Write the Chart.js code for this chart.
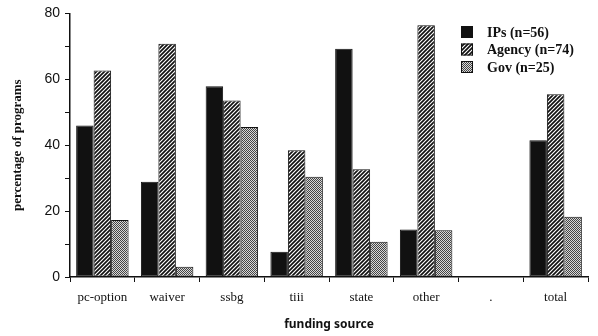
<!DOCTYPE html>
<html>
<head>
<meta charset="utf-8">
<script src="https://cdn.jsdelivr.net/npm/chart.js@4"></script>
<style>
  html, body { margin: 0; padding: 0; background: #fff; }
  #wrap { width: 598px; height: 336px; }
</style>
</head>
<body>
<div id="wrap"><canvas id="fundChart" width="598" height="336"></canvas></div>
<script>
// funding source categories
const categories = ['pc-option', 'waiver', 'ssbg', 'tiii', 'state', 'other', '.', 'total'];
// percentage of programs per group
const ipsValues = [46, 28.9, 57.9, 7.7, 69.3, 14.4, 0, 41.5];
const agencyValues = [62.7, 70.8, 53.6, 38.5, 32.7, 76.4, 0, 55.5];
const govValues = [17.3, 3.1, 45.5, 30.4, 10.7, 14.2, 0, 18.3];
const seriesLabels = ['IPs (n=56)', 'Agency (n=74)', 'Gov (n=25)'];
const yTicks = [0, 20, 40, 60, 80];

// hatch fill for Agency
function makeHatch() {
    const c = document.createElement('canvas');
    c.width = 4; c.height = 4;
    const g = c.getContext('2d');
    g.fillStyle = '#fff';
    g.fillRect(0, 0, 4, 4);
    g.strokeStyle = '#111';
    g.lineWidth = 1.7;
    g.beginPath();
    g.moveTo(-1, 5); g.lineTo(5, -1);
    g.moveTo(-1, 1); g.lineTo(1, -1);
    g.moveTo(3, 5); g.lineTo(5, 3);
    g.stroke();
    return g.createPattern(c, 'repeat');
}

// fine checker fill for Gov
function makeChecker() {
    const c = document.createElement('canvas');
    c.width = 2; c.height = 2;
    const g = c.getContext('2d');
    g.fillStyle = '#d8d8d8';
    g.fillRect(0, 0, 2, 2);
    g.fillStyle = '#444';
    g.fillRect(0, 0, 1, 1);
    g.fillRect(1, 1, 1, 1);
    return g.createPattern(c, 'repeat');
}

const fills = ['#111', makeHatch(), makeChecker()];

// legend in the top right corner
const boxLegend = {
    id: 'boxLegend',
    afterDraw(chart) {
        const ctx = chart.ctx;
        ctx.save();
        ctx.font = 'bold 14px "Liberation Serif", serif';
        ctx.textBaseline = 'middle';
        seriesLabels.forEach((lbl, i) => {
            const y = 32 + i * 17.5;
            ctx.fillStyle = fills[i];
            ctx.fillRect(461, y - 6, 12, 12);
            ctx.strokeStyle = '#111';
            ctx.lineWidth = 1;
            ctx.strokeRect(461.5, y - 5.5, 11, 11);
            ctx.fillStyle = '#111';
            ctx.fillText(lbl, 487, y + 1);
        });
        ctx.restore();
    }
};

const fundCtx = document.getElementById('fundChart').getContext('2d');
const fundChart = new Chart(fundCtx, {
    type: 'bar',
    data: {
        labels: categories,
        datasets: [ipsValues, agencyValues, govValues].map((vals, i) => ({
            label: seriesLabels[i],
            data: vals,
            backgroundColor: fills[i],
            borderColor: '#111',
            borderWidth: vals.map(v => v > 0 ? 1 : 0),
            borderSkipped: false,
            barPercentage: 1.0,
            categoryPercentage: 0.81
        }))
    },
    options: {
        responsive: false,
        animation: false,
        layout: { padding: { top: 13, right: 10, left: 10, bottom: 0 } },
        scales: {
            y: {
                min: 0,
                max: 80,
                afterFit: function(scale) { scale.width = 60; },
                afterBuildTicks: function(scale) {
                    scale.ticks = [0, 10, 20, 30, 40, 50, 60, 70, 80].map(v => ({ value: v }));
                },
                ticks: {
                    color: '#111',
                    padding: 5,
                    font: { family: '"Liberation Sans", Arial, sans-serif', size: 14 },
                    callback: function(value) {
                        return yTicks.includes(value) ? value : '';
                    }
                },
                grid: {
                    drawOnChartArea: false,
                    tickLength: 5,
                    color: '#111',
                    lineWidth: 1
                },
                border: { color: '#111', width: 1.5 },
                title: {
                    display: true,
                    text: 'percentage of programs',
                    color: '#111',
                    padding: { top: 0, bottom: 0 },
                    font: { family: '"Liberation Serif", serif', size: 13, weight: 'bold' }
                }
            },
            x: {
                afterFit: function(scale) { scale.height = 59; },
                ticks: {
                    color: '#111',
                    padding: 8,
                    font: { family: '"Liberation Serif", serif', size: 13 }
                },
                grid: {
                    drawOnChartArea: false,
                    tickLength: 5,
                    color: '#111',
                    lineWidth: 1
                },
                border: { color: '#111', width: 1.5 },
                title: {
                    display: true,
                    text: 'funding source',
                    color: '#111',
                    padding: { top: 4 },
                    font: { family: '"Noto Sans", sans-serif', size: 12, weight: 'bold' }
                }
            }
        },
        plugins: {
            legend: { display: false },
            tooltip: { enabled: false }
        }
    },
    plugins: [boxLegend]
});
</script>
</body>
</html>
